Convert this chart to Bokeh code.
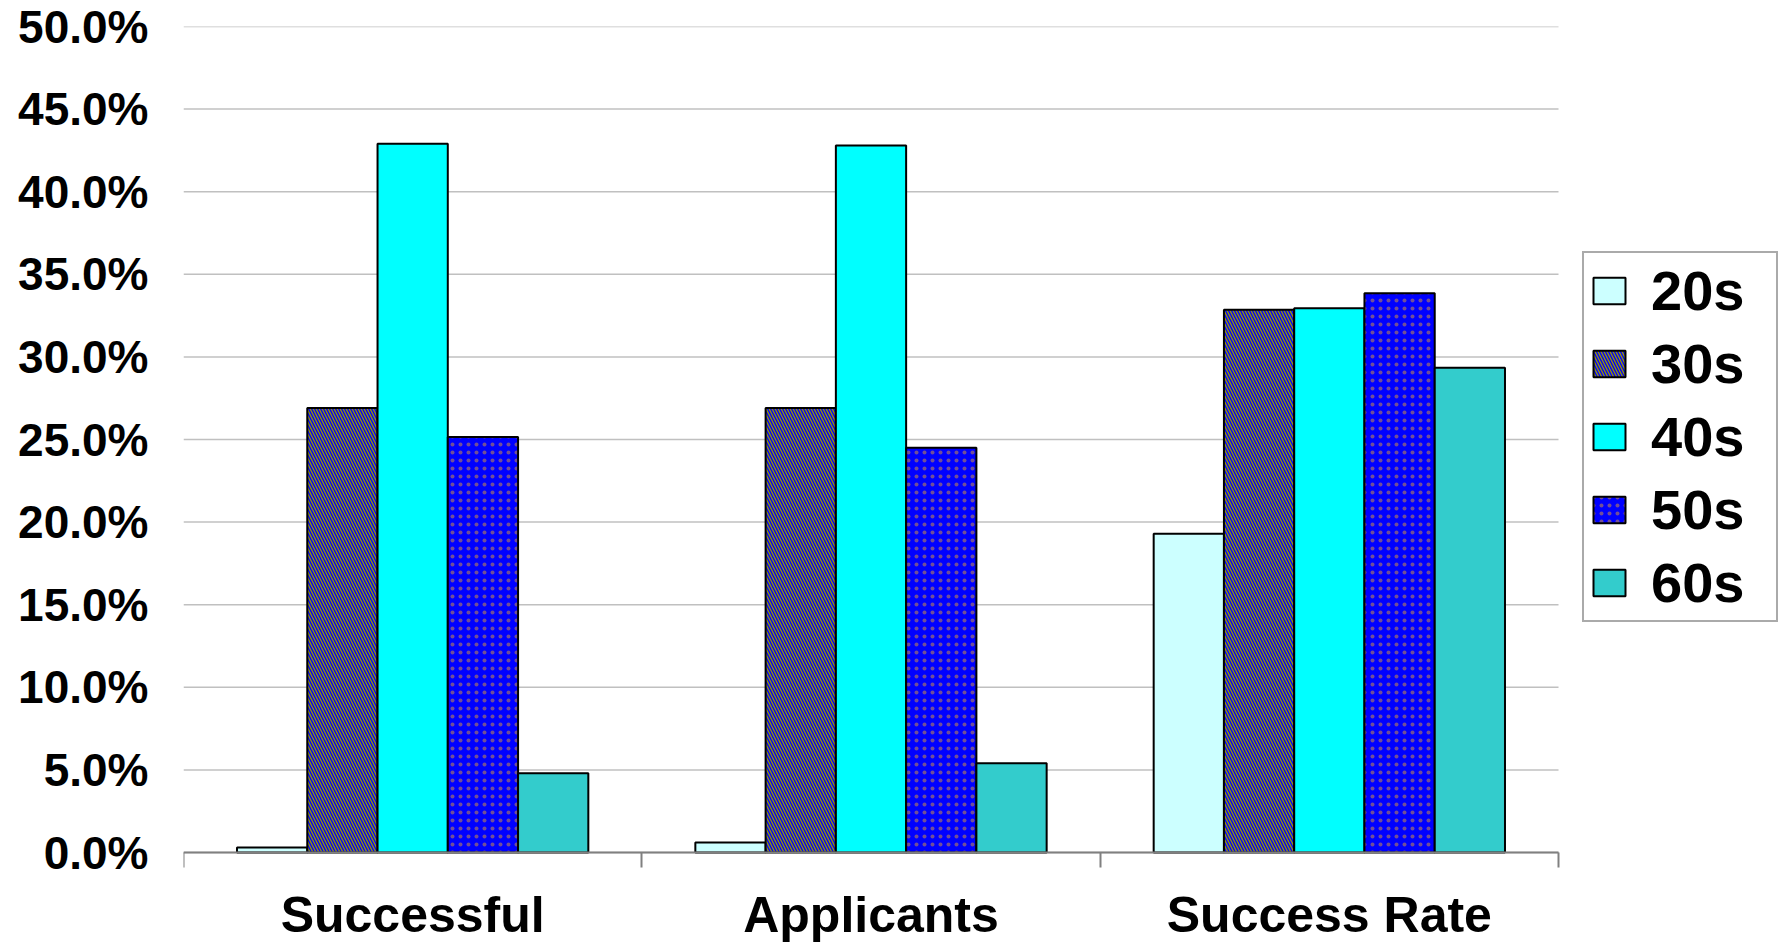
from bokeh.plotting import figure
from bokeh.models import (ColumnDataSource, Range1d, FixedTicker, PrintfTickFormatter,
                          Legend, LegendItem)
from bokeh.transform import dodge
from bokeh.embed import file_html
from bokeh.resources import INLINE

# ---- data ----
categories = ["Successful", "Applicants", "Success Rate"]
series_names = ["20s", "30s", "40s", "50s", "60s"]
vals_20s = [0.3, 0.6, 19.3]
vals_30s = [26.9, 26.9, 32.85]
vals_40s = [42.9, 42.8, 32.95]
vals_50s = [25.15, 24.5, 33.85]
vals_60s = [4.8, 5.4, 29.35]
y_ticks = [0, 5, 10, 15, 20, 25, 30, 35, 40, 45, 50]

FONT = "Liberation Sans"

# ---- layout constants (pixels) ----
W, H = 1780, 945
LEFT, TOP = 183, 26
PLOT_W, PLOT_H = 1375, 826          # area covered by the 3 categories / 0..50 %
RIGHT_PAD = 1
n_cat = len(categories)
y_max = y_ticks[-1]
frame_w = W - LEFT - RIGHT_PAD
frame_h = H - TOP
x_end = n_cat * frame_w / PLOT_W
y_start = -(frame_h - PLOT_H) * y_max / PLOT_H

cat_pos = [i + 0.5 for i in range(n_cat)]
cat_edges = [i for i in range(n_cat + 1)]
src = ColumnDataSource(dict(x=cat_pos, s20=vals_20s, s30=vals_30s, s40=vals_40s,
                            s50=vals_50s, s60=vals_60s))

p = figure(width=W, height=H, x_range=Range1d(0, x_end), y_range=Range1d(y_start, y_max),
           output_backend="svg", toolbar_location=None,
           min_border_left=LEFT, min_border_right=RIGHT_PAD, min_border_top=TOP, min_border_bottom=0)
p.outline_line_color = None
p.background_fill_color = "white"
p.border_fill_color = "white"

# grid lines limited to the category area
p.xgrid.visible = False
p.ygrid.visible = False
p.segment(x0=0, x1=n_cat, y0=y_ticks, y1=y_ticks, line_color="#c0c0c0", line_width=1.5)

bar_w = 0.1533
styles = [
    dict(fill_color="#ccffff"),
    dict(fill_color="#999900", hatch_pattern="\\", hatch_color="#0000ff", hatch_scale=6, hatch_weight=1.4),
    dict(fill_color="#00ffff"),
    dict(fill_color="#0000ff", hatch_pattern=".", hatch_color="#d09040", hatch_scale=8, hatch_alpha=0.55),
    dict(fill_color="#33cccc"),
]
fields = ["s20", "s30", "s40", "s50", "s60"]
renderers = []
for i, (f, st) in enumerate(zip(fields, styles)):
    r = p.vbar(x=dodge("x", (i - 2) * bar_w, range=p.x_range), top=f, bottom=0, width=bar_w,
               source=src, line_color="black", line_width=2, **st)
    renderers.append(r)

# y axis
p.yaxis.ticker = FixedTicker(ticks=y_ticks)
p.yaxis.formatter = PrintfTickFormatter(format="%.1f%%")
p.yaxis.axis_line_color = None
p.yaxis.major_tick_line_color = None
p.yaxis.minor_tick_line_color = None
p.yaxis.major_tick_out = 0
p.yaxis.major_tick_in = 0
p.yaxis.major_label_standoff = 35
p.yaxis.major_label_text_font = FONT
p.yaxis.major_label_text_font_style = "bold"
p.yaxis.major_label_text_font_size = "46px"
p.yaxis.major_label_text_color = "black"

# x axis fixed at zero
xa = p.xaxis[0]
xa.fixed_location = 0
xa.bounds = (0, n_cat)
xa.ticker = FixedTicker(ticks=cat_pos, minor_ticks=cat_edges)
xa.major_label_overrides = {pos: name for pos, name in zip(cat_pos, categories)}
xa.major_tick_line_color = None
xa.major_tick_out = 0
xa.major_tick_in = 0
xa.minor_tick_out = 15
xa.minor_tick_in = 0
xa.minor_tick_line_color = "#808080"
xa.minor_tick_line_width = 2
xa.axis_line_color = "#808080"
xa.axis_line_width = 2
xa.major_label_standoff = 19
xa.major_label_text_font = FONT
xa.major_label_text_font_style = "bold"
xa.major_label_text_font_size = "50px"
xa.major_label_text_color = "black"

legend = Legend(items=[LegendItem(label=n, renderers=[r]) for n, r in zip(series_names, renderers)],
                location=(1399, 323), orientation="vertical",
                glyph_width=40, glyph_height=33, label_standoff=22, padding=5, spacing=8,
                label_width=120,
                label_text_font=FONT, label_text_font_style="bold", label_text_font_size="56px",
                label_text_color="black",
                border_line_color="#555555", border_line_width=2, background_fill_color="white",
                background_fill_alpha=1.0, margin=0)
p.add_layout(legend)

open("out.html", "w").write(file_html(p, INLINE))
